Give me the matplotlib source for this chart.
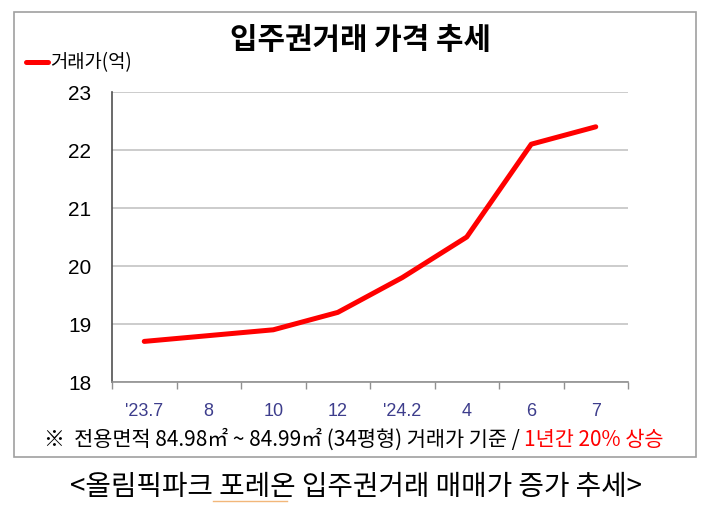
import matplotlib.pyplot as plt
from matplotlib.patches import Rectangle
from matplotlib.lines import Line2D

plt.rcParams['font.family'] = ['Noto Sans CJK KR', 'DejaVu Sans']

# 데이터
months = ["'23.7", '8', '10', '12', "'24.2", '4', '6', '7']
price = [18.7, 18.8, 18.9, 19.2, 19.8, 20.5, 22.1, 22.4]
y_ticks = [18, 19, 20, 21, 22, 23]

title = '입주권거래 가격 추세'
series_name = '거래가(억)'
note_black = '※  전용면적 84.98㎡ ~ 84.99㎡ (34평형) 거래가 기준 / '
note_red = '1년간 20% 상승'
caption = '<올림픽파크 포레온 입주권거래 매매가 증가 추세>'

fig = plt.figure(figsize=(7.2, 5.11), dpi=100)
W, H = 720, 511

def fx(px):
    return px / W

def fy(py):
    return 1 - py / H

# 바깥 테두리
fig.add_artist(Rectangle((fx(14), fy(457)), fx(696) - fx(14), fy(12) - fy(457),
                         transform=fig.transFigure, fill=False,
                         edgecolor='#a0a0a0', linewidth=1.2))

ax = fig.add_axes([fx(112), fy(382), fx(628) - fx(112), fy(92) - fy(382)])

x = list(range(len(months)))
ax.plot(x, price, color='#ff0000', linewidth=3.6, solid_capstyle='round',
        label=series_name)

ax.set_xlim(-0.5, len(months) - 0.5)
ax.set_ylim(18, 23)
ax.set_yticks(y_ticks)
ax.set_yticklabels([str(v) for v in y_ticks],
                   family=['Liberation Sans', 'DejaVu Sans'], fontsize=15)
ax.tick_params(axis='y', length=0, pad=15)
ax.grid(axis='y', color='#c8c8c8', linewidth=1.3)
ax.set_axisbelow(True)

# x축: 경계에 눈금, 가운데에 라벨
ax.set_xticks([i - 0.5 for i in range(len(months) + 1)])
ax.set_xticklabels([])
ax.set_xticks(x, minor=True)
ax.set_xticklabels(months, minor=True, color='#3d3d8c', fontsize=13,
                   family=['Liberation Sans Narrow', 'Liberation Sans', 'DejaVu Sans'])
ax.tick_params(axis='x', which='major', length=5, color='#909090', width=1)
ax.tick_params(axis='x', which='minor', length=0, pad=15)

for s in ['top', 'right']:
    ax.spines[s].set_visible(False)
ax.spines['left'].set_color('#505050')
ax.spines['left'].set_linewidth(1.2)
ax.spines['bottom'].set_color('#909090')
ax.spines['bottom'].set_linewidth(1.2)

# 제목
fig.text(fx(360), fy(40), title, ha='center', va='center',
         fontsize=21.5, fontweight='bold')

# 범례
ax.legend(loc='center left', bbox_to_anchor=(fx(26), fy(63)),
          bbox_transform=fig.transFigure, frameon=False, fontsize=13.5,
          handlelength=1.2, handletextpad=0.1, borderpad=0, borderaxespad=0)

# 주석 (검정 + 빨강 이어쓰기)
t = fig.text(fx(44), fy(440), note_black, ha='left', va='center', fontsize=15)
ax.annotate(note_red, xy=(1, 0.5), xycoords=t, ha='left', va='center',
            fontsize=15, color='#ff0000')

# 하단 캡션
fig.text(fx(356), fy(487), caption, ha='center', va='center', fontsize=20)
fig.add_artist(Line2D([fx(213), fx(287)], [fy(501), fy(501)],
                      transform=fig.transFigure, color='#f2b77a', linewidth=1))

fig.savefig('out.png', dpi=100)
